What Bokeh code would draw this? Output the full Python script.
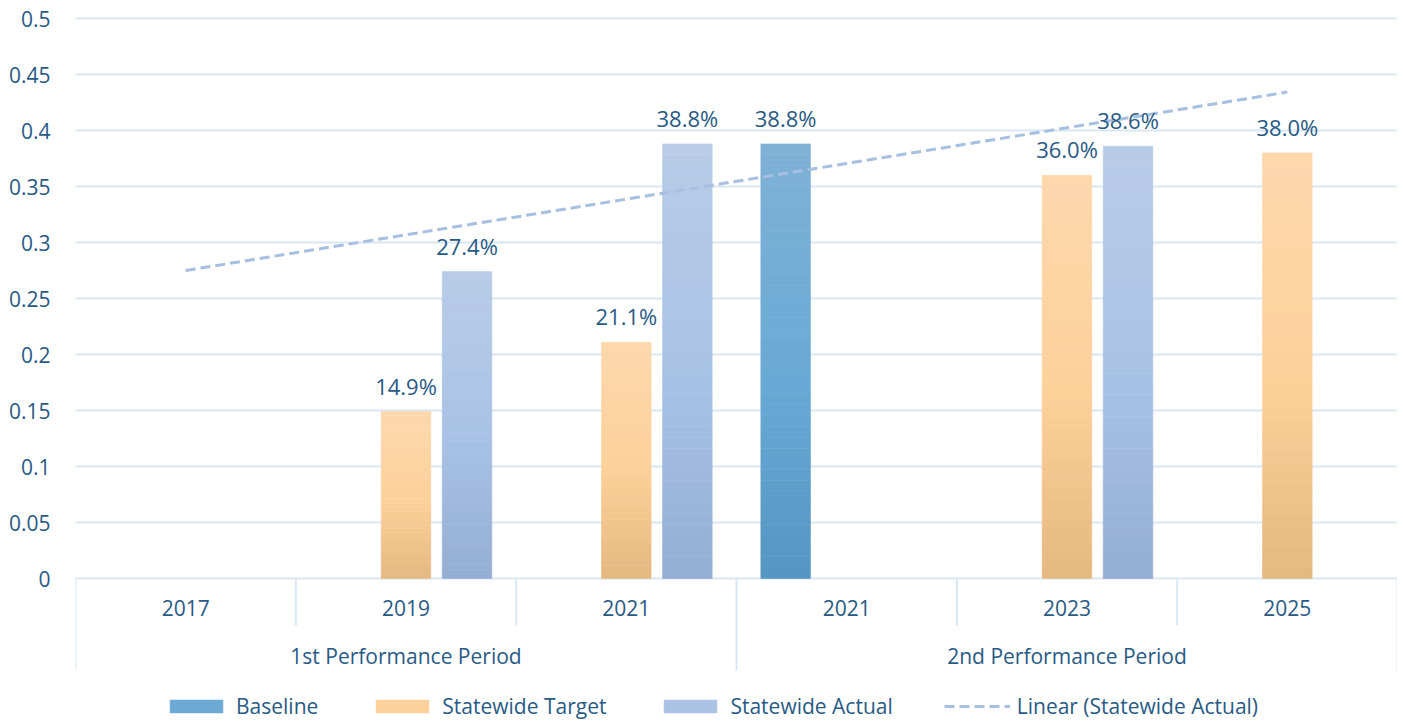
import numpy as np
from bokeh.plotting import figure
from bokeh.models import (ColumnDataSource, FactorRange, FixedTicker, LabelSet,
                          Legend, LegendItem, Range1d)
from bokeh.transform import dodge
from bokeh.core.properties import value
from bokeh.embed import file_html
from bokeh.resources import INLINE

# ---------------- data ----------------
categories = ["2017", "2019", "2021", "2021", "2023", "2025"]
periods = ["1st Performance Period"] * 3 + ["2nd Performance Period"] * 3
baseline = [None, None, None, 0.388, None, None]
statewide_target = [None, 0.149, 0.211, None, 0.360, 0.380]
statewide_actual = [None, 0.274, 0.388, None, 0.386, None]
y_ticks = [0, 0.05, 0.1, 0.15, 0.2, 0.25, 0.3, 0.35, 0.4, 0.45, 0.5]
y_tick_labels = ["0", "0.05", "0.1", "0.15", "0.2", "0.25", "0.3", "0.35", "0.4", "0.45", "0.5"]
series_names = ["Baseline", "Statewide Target", "Statewide Actual"]
trend_name = "Linear (Statewide Actual)"

# ---------------- styles ----------------
FONT = "Open Sans"
TEXT = "#285a85"
GRID = "#d9e7f4"
PX = 1120.0  # pixels per y unit (layout helper)
BAR_W = 0.225
OFFSETS = [-0.277, 0.0, 0.277]
STOPS = [
    ["#7fb1d6", "#69a9d5", "#5595c1"],   # baseline
    ["#fdd8ad", "#fdd09a", "#e4b880"],   # target
    ["#b8cce7", "#a8c2e5", "#94add2"],   # actual
]
TREND_COLOR = "#a7bfe1"
H = 721


def hex2rgb(h):
    h = h.lstrip("#")
    return [int(h[i:i + 2], 16) for i in (0, 2, 4)]


def grad(stops, t):
    # t = 0 at top, 1 at bottom ; stops at 0, 0.55, 1
    pos = [0.0, 0.55, 1.0]
    cols = [hex2rgb(s) for s in stops]
    for k in range(2):
        if t <= pos[k + 1]:
            f = (t - pos[k]) / (pos[k + 1] - pos[k])
            c = [round(cols[k][j] + (cols[k + 1][j] - cols[k][j]) * f) for j in range(3)]
            return "#%02x%02x%02x" % tuple(c)
    return stops[-1]


factors = list(zip(periods, categories))
x_range = FactorRange(factors=factors, factor_padding=0, group_padding=0,
                      subgroup_padding=0, range_padding=0)
y_range = Range1d(-(H - 578) / PX, 0.5 + 6 / PX)

p = figure(width=1397, height=H, x_range=x_range, y_range=y_range,
           output_backend="svg", toolbar_location=None, x_axis_location=None,
           min_border_left=75, min_border_right=0, min_border_top=12, min_border_bottom=0)
p.outline_line_color = None
p.background_fill_color = "white"
p.border_fill_color = "white"

# y axis
p.yaxis.ticker = FixedTicker(ticks=y_ticks)
p.yaxis.major_label_overrides = dict(zip(y_ticks, y_tick_labels))
p.yaxis.axis_line_color = None
p.yaxis.major_tick_line_color = None
p.yaxis.minor_tick_line_color = None
p.yaxis.major_label_standoff = 19
p.yaxis.major_label_text_font = FONT
p.yaxis.major_label_text_font_size = "21px"
p.yaxis.major_label_text_color = TEXT
p.ygrid.ticker = FixedTicker(ticks=y_ticks[1:])
p.ygrid.grid_line_color = GRID
p.ygrid.grid_line_width = 2
p.xgrid.visible = False

# category box (drawn inside the frame below zero)
n = len(categories)
bx, by = [], []
for i in range(n + 1):
    is_group_edge = i == 0 or i == n or periods[i - 1] != periods[i]
    bx.append(i)
    by.append(-(670 - 578) / PX if is_group_edge else -(625 - 578) / PX)
p.segment(x0=bx, y0=[0] * len(bx), x1=bx, y1=by, line_color=GRID, line_width=2)
p.segment(x0=[0], y0=[0], x1=[n], y1=[0], line_color=GRID, line_width=2)

p.text(x=factors, y=[-(607 - 578) / PX] * n, text=categories,
       text_font=value(FONT), text_font_size="21px", text_color=TEXT,
       text_align="center", text_baseline="middle")
groups = list(dict.fromkeys(periods))
p.text(x=groups, y=[-(655 - 578) / PX] * len(groups), text=groups,
       text_font=value(FONT), text_font_size="21px", text_color=TEXT,
       text_align="center", text_baseline="middle")

# gradient bars
NS = 40
legend_items = []
for s, vals in enumerate([baseline, statewide_target, statewide_actual]):
    xs, bots, tops, cols = [], [], [], []
    lx, ly, lt = [], [], []
    for i, v in enumerate(vals):
        if v is None:
            continue
        for k in range(NS):
            xs.append(factors[i])
            bots.append(v * k / NS)
            tops.append(v * (k + 1) / NS)
            cols.append(grad(STOPS[s], 1 - (k + 0.5) / NS))
        lx.append(factors[i])
        ly.append(v)
        lt.append(f"{v * 100:.1f}%")
    src = ColumnDataSource(dict(x=xs, bottom=bots, top=tops, color=cols))
    r = p.vbar(x=dodge("x", OFFSETS[s], range=x_range), bottom="bottom", top="top",
               width=BAR_W, fill_color="color", line_color="color", line_width=0.6,
               source=src)
    lsrc = ColumnDataSource(dict(x=lx, y=ly, text=lt))
    p.add_layout(LabelSet(x=dodge("x", OFFSETS[s], range=x_range), y="y", text="text",
                          source=lsrc, text_align="center", text_baseline="alphabetic",
                          y_offset=17, text_font=value(FONT), text_font_size="22px",
                          text_color=TEXT))
    legend_items.append(LegendItem(label=series_names[s], renderers=[r], index=NS // 2))

# linear trendline of Statewide Actual
idx = np.array([i + 1 for i, v in enumerate(statewide_actual) if v is not None], float)
vv = np.array([v for v in statewide_actual if v is not None], float)
slope, intercept = np.polyfit(idx, vv, 1)
trend = [float(slope * (i + 1) + intercept) for i in range(n)]
tr = p.line(x=factors, y=trend, line_color=TREND_COLOR, line_width=3, line_dash="10 5")
legend_items.append(LegendItem(label=trend_name, renderers=[tr]))

legend = Legend(items=legend_items, orientation="horizontal", location=(88, 1),
                glyph_width=66, glyph_height=16, label_standoff=7, spacing=51,
                padding=0, margin=0, border_line_color=None, background_fill_alpha=0,
                label_text_font=FONT, label_text_font_size="21px", label_text_color=TEXT)
p.add_layout(legend)

open("out.html", "w").write(file_html(p, INLINE))
